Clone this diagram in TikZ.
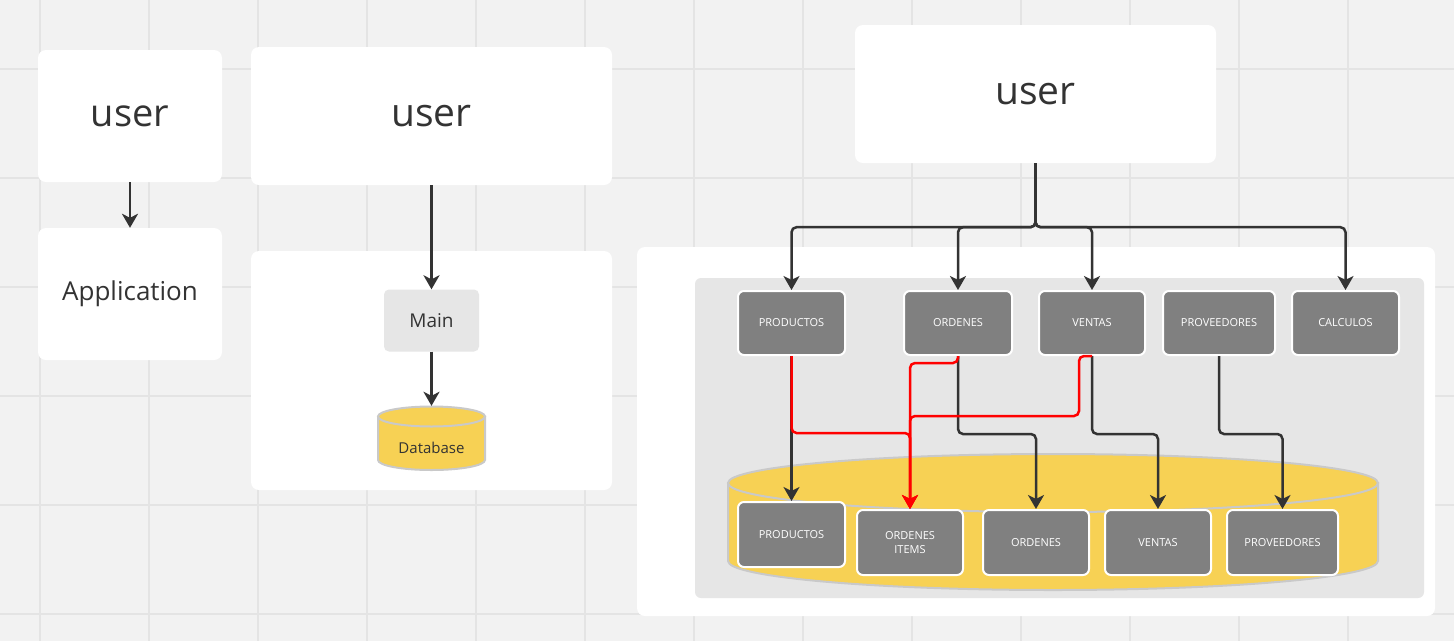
\documentclass[tikz,border=0pt]{standalone}
\usepackage{fontspec}
\setmainfont{Open Sans}
\usetikzlibrary{arrows.meta}
\definecolor{bgc}{HTML}{F2F2F2}
\definecolor{gridc}{HTML}{E4E4E4}
\definecolor{txtc}{HTML}{333333}
\definecolor{arrc}{HTML}{333333}
\definecolor{panelc}{HTML}{E6E6E6}
\definecolor{boxc}{HTML}{808080}
\definecolor{dbyel}{HTML}{F7D154}
\definecolor{dbline}{HTML}{C9C9C9}
\definecolor{redc}{HTML}{FF0000}
\tikzset{
  whitebox/.style={fill=white, draw=none, rounded corners=8pt, text=txtc, inner sep=0pt},
  panel/.style={fill=panelc, draw=none, rounded corners=6pt, inner sep=0pt},
  graybox/.style={fill=boxc, draw=white, line width=2pt, rounded corners=6pt, text=white,
    font=\fontsize{11}{14}\selectfont, align=center, inner sep=0pt},
  arr/.style={draw=arrc, line width=2.5pt, rounded corners=5pt, -{Stealth[length=14pt,width=16pt,inset=4pt]}},
  redarr/.style={arr, draw=redc},
  cyl/.style={fill=dbyel, draw=dbline, line width=2pt},
}
\begin{document}
\begin{tikzpicture}[x=1pt,y=-1pt]
\useasboundingbox (0,0) rectangle (1454,641);
\fill[bgc] (0,0) rectangle (1454,641);
% grid
\foreach \gx in {40,149,258,367,476,585,694,803,912,1021,1130,1239,1348}
  \draw[gridc, line width=1.5pt] (\gx,0) -- (\gx,641);
\foreach \gy in {69,178,287,396,505,614}
  \draw[gridc, line width=1.5pt] (0,\gy) -- (1454,\gy);

% ---------- left column ----------
\node[whitebox, minimum width=184, minimum height=132, font=\fontsize{38}{44}\selectfont] (u1) at (130,116) {user};
\node[whitebox, minimum width=184, minimum height=132, font=\fontsize{26}{31}\selectfont] (app) at (130,294) {Application};

% ---------- middle column ----------
\node[whitebox, minimum width=361, minimum height=138, font=\fontsize{39}{45}\selectfont] (u2) at (431.5,116) {user};
\node[whitebox, minimum width=361, minimum height=239] (cont2) at (431.5,370.5) {};
\node[panel, minimum width=95, minimum height=62, rounded corners=5pt, text=txtc, font=\fontsize{19}{23}\selectfont] (main) at (431.5,320.5) {Main};
% small database cylinder
\path[cyl] (378,416.5) -- (378,460) arc[start angle=180, end angle=0, x radius=53.5, y radius=10] -- (485,416.5) -- cycle;
\path[cyl] (431.5,416.5) ellipse [x radius=53.5, y radius=10];
\node[minimum width=107, minimum height=64, inner sep=0pt] (db) at (431.5,438) {};
\node[text=txtc, font=\fontsize{15}{18}\selectfont, inner sep=0pt] (dblabel) at (431.5,448) {Database};

% ---------- right column ----------
\node[whitebox, minimum width=361, minimum height=138, font=\fontsize{39}{45}\selectfont] (u3) at (1035.5,94) {user};
\node[whitebox, minimum width=798, minimum height=369] (cont3) at (1036,431.5) {};
\node[panel, minimum width=729, minimum height=320] (pan3) at (1059.5,438) {};
% big cylinder
\path[cyl] (728,483) -- (728,561) arc[start angle=180, end angle=0, x radius=325, y radius=29] -- (1378,483) -- cycle;
\path[cyl] (1053,483) ellipse [x radius=325, y radius=29];

% top boxes
\node[graybox, minimum width=107, minimum height=64] (tp) at (791.5,323) {PRODUCTOS};
\node[graybox, minimum width=108, minimum height=64] (to) at (958,323) {ORDENES};
\node[graybox, minimum width=106, minimum height=64] (tv) at (1092,323) {VENTAS};
\node[graybox, minimum width=112, minimum height=64] (tpv) at (1219,323) {PROVEEDORES};
\node[graybox, minimum width=107, minimum height=64] (tc) at (1345.5,323) {CALCULOS};
% bottom boxes
\node[graybox, minimum width=107, minimum height=65] (bp) at (791.5,534.5) {PRODUCTOS};
\node[graybox, minimum width=106, minimum height=65] (boi) at (910,542.5) {ORDENES\\ITEMS};
\node[graybox, minimum width=106, minimum height=65] (bo) at (1036,542.5) {ORDENES};
\node[graybox, minimum width=106, minimum height=65] (bv) at (1158,542.5) {VENTAS};
\node[graybox, minimum width=111, minimum height=65] (bpv) at (1282.5,542.5) {PROVEEDORES};

% ---------- connectors ----------
\draw[arr] (u1.south) -- (app.north);
\draw[arr] (u2.south) -- (main.north);
\draw[arr] (main.south) -- (db.north);

\draw[arr] (u3.south) -- ++(0,64) -| (tp.north);
\draw[arr] (u3.south) -- ++(0,64) -| (to.north);
\draw[arr] (u3.south) -- ++(0,64) -| (tv.north);
\draw[arr] (u3.south) -- ++(0,64) -| (tc.north);

\draw[arr] (tp.south) -- (bp.north);
\draw[arr] (to.south) -- ++(0,78) -| (bo.north);
\draw[arr] (tv.south) -- ++(0,78) -| (bv.north);
\draw[arr] (tpv.south) -- ++(0,78) -| (bpv.north);

\draw[redarr] (tp.south) -- ++(0,77) -| (boi.north);
\draw[redarr] (to.south) -- ++(0,7) -| (boi.north);
\draw[redarr] (tv.south) -- ++(-13,0) -- ++(0,60) -| (boi.north);
\end{tikzpicture}
\end{document}
